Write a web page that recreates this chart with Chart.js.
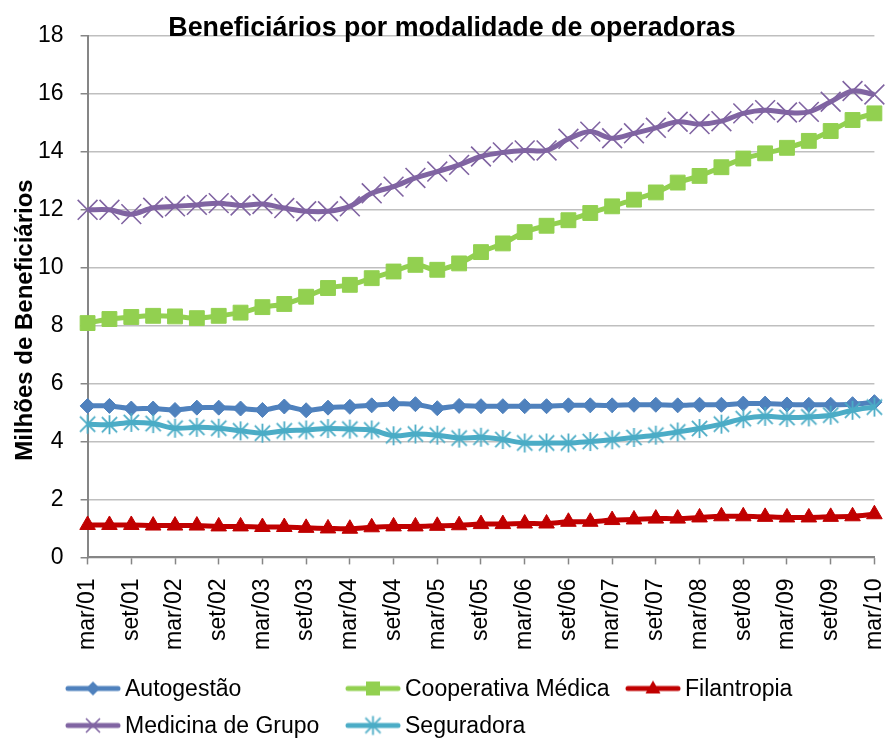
<!DOCTYPE html>
<html>
<head>
<meta charset="utf-8">
<script src="https://cdn.jsdelivr.net/npm/chart.js@4.4.1/dist/chart.umd.min.js"></script>
<style>
  body { margin: 0; background: #fff; }
  #wrap { position: relative; width: 890px; height: 738px; }
  .leg-item {
    position: absolute;
    display: flex;
    align-items: center;
    font: 23px "Liberation Sans", Arial, sans-serif;
    color: #000;
    white-space: nowrap;
    transform: translateY(-50%);
  }
  .leg-item canvas { margin-right: 4px; }
</style>
</head>
<body>
<div id="wrap">
  <canvas id="chart" width="890" height="738"></canvas>
  <div id="legend"></div>
</div>
<script>
const chartTitle = "Beneficiários por modalidade de operadoras";
const yTitle = "Milhões de Beneficiários";

// quarterly periods, mar/01 .. mar/10
const periods = [
  "mar/01", "jun/01", "set/01", "dez/01",
  "mar/02", "jun/02", "set/02", "dez/02",
  "mar/03", "jun/03", "set/03", "dez/03",
  "mar/04", "jun/04", "set/04", "dez/04",
  "mar/05", "jun/05", "set/05", "dez/05",
  "mar/06", "jun/06", "set/06", "dez/06",
  "mar/07", "jun/07", "set/07", "dez/07",
  "mar/08", "jun/08", "set/08", "dez/08",
  "mar/09", "jun/09", "set/09", "dez/09",
  "mar/10"
];

const seriesNames = ["Autogestão", "Cooperativa Médica", "Filantropia", "Medicina de Grupo", "Seguradora"];
const seriesColors = ["#4F81BD", "#92D050", "#C00000", "#8064A2", "#4BACC6"];

const autogestao = [
  5.23, 5.23, 5.14, 5.14, 5.09, 5.17, 5.17, 5.14, 5.09, 5.21, 5.08, 5.17, 5.20, 5.25, 5.30, 5.29, 5.15, 5.23,
  5.22, 5.22, 5.22, 5.22, 5.25, 5.25, 5.25, 5.27, 5.27, 5.25, 5.27, 5.27, 5.31, 5.31, 5.28, 5.27, 5.27, 5.29, 5.36
];
const cooperativa = [
  8.09, 8.23, 8.30, 8.34, 8.32, 8.26, 8.34, 8.45, 8.64, 8.75, 9.00, 9.30, 9.41, 9.64, 9.87, 10.10, 9.93, 10.15,
  10.54, 10.84, 11.23, 11.45, 11.64, 11.89, 12.12, 12.35, 12.60, 12.94, 13.17, 13.47, 13.77, 13.95, 14.14, 14.38, 14.72, 15.10, 15.33
];
const filantropia = [
  1.12, 1.12, 1.12, 1.10, 1.10, 1.10, 1.07, 1.07, 1.05, 1.05, 1.02, 1.00, 0.99, 1.04, 1.07, 1.07, 1.09, 1.11,
  1.15, 1.15, 1.17, 1.17, 1.23, 1.23, 1.29, 1.31, 1.34, 1.34, 1.38, 1.42, 1.42, 1.40, 1.38, 1.38, 1.40, 1.42, 1.49
];
const medicina = [
  12.00, 12.00, 11.85, 12.07, 12.12, 12.17, 12.23, 12.15, 12.20, 12.06, 11.95, 11.95, 12.12, 12.57, 12.80, 13.10, 13.32, 13.55,
  13.84, 13.98, 14.05, 14.05, 14.45, 14.70, 14.47, 14.64, 14.83, 15.04, 14.96, 15.06, 15.33, 15.44, 15.36, 15.38, 15.73, 16.10, 15.98
];
const seguradora = [
  4.60, 4.58, 4.66, 4.62, 4.46, 4.49, 4.46, 4.37, 4.29, 4.37, 4.40, 4.45, 4.43, 4.40, 4.20, 4.26, 4.22, 4.12,
  4.15, 4.07, 3.95, 3.95, 3.95, 4.00, 4.06, 4.14, 4.22, 4.33, 4.45, 4.60, 4.79, 4.87, 4.83, 4.85, 4.91, 5.08, 5.19
];

const yTicks = [0, 2, 4, 6, 8, 10, 12, 14, 16, 18];

const FONT = '"Liberation Sans", Arial, sans-serif';

// asterisk marker like the spreadsheet one (vertical bar + X)
function makeAsterisk(color, size) {
  const c = document.createElement("canvas");
  c.width = size; c.height = size;
  const g = c.getContext("2d");
  const m = size / 2, r = size / 2 - 1, d = r * 0.8;
  g.strokeStyle = color;
  g.lineWidth = 1.8;
  g.beginPath();
  g.moveTo(m, m - r); g.lineTo(m, m + r);
  g.moveTo(m - d, m - d); g.lineTo(m + d, m + d);
  g.moveTo(m + d, m - d); g.lineTo(m - d, m + d);
  g.stroke();
  return c;
}
const asterisk = makeAsterisk(seriesColors[4], 21);

const seriesData = [autogestao, cooperativa, filantropia, medicina, seguradora];
const pointStyles = ["rectRot", "rect", "triangle", "crossRot", asterisk];
const pointSizes = [7.5, 10.5, 9, 14, 10];
const drawOrder = [5, 4, 3, 2, 1];

const datasets = seriesNames.map((name, i) => ({
  label: name,
  data: seriesData[i],
  borderColor: seriesColors[i],
  backgroundColor: seriesColors[i],
  borderWidth: 5,
  tension: 0.35,
  pointStyle: pointStyles[i],
  pointRadius: pointSizes[i],
  pointHoverRadius: pointSizes[i],
  pointBorderWidth: i === 3 ? 1.6 : 1,
  pointBackgroundColor: seriesColors[i],
  pointBorderColor: seriesColors[i],
  order: drawOrder[i]
}));

// titles placed where the original has them (main title overlaps the top gridline)
const titlesPlugin = {
  id: "titles",
  afterDraw(chart) {
    const ctx = chart.ctx;
    ctx.save();
    ctx.fillStyle = "#000";
    ctx.textAlign = "center";
    ctx.textBaseline = "middle";
    ctx.font = "bold 26.8px " + FONT;
    ctx.fillText(chartTitle, 452, 29);
    ctx.translate(25, 320);
    ctx.rotate(-Math.PI / 2);
    ctx.font = "bold 24px " + FONT;
    ctx.fillText(yTitle, 0, 0);
    ctx.restore();
  }
};

const chart = new Chart(document.getElementById("chart"), {
  type: "line",
  data: { labels: periods, datasets },
  plugins: [titlesPlugin],
  options: {
    responsive: false,
    animation: false,
    layout: { padding: { left: 21, right: 0, top: 0, bottom: 74 } },
    plugins: {
      legend: { display: false },
      tooltip: { enabled: false },
      title: { display: false }
    },
    scales: {
      x: {
        offset: false,
        border: { color: "#868686", width: 2 },
        grid: { drawOnChartArea: false, drawTicks: true, tickLength: 7, tickColor: "#868686", tickWidth: 1.5 },
        afterFit: (s) => { s.paddingRight = 13; },
        ticks: {
          autoSkip: false,
          maxRotation: 90,
          minRotation: 90,
          padding: 14,
          color: "#000",
          font: { family: FONT, size: 23 },
          callback: (v, i) => (i % 2 === 0 ? periods[i] : null)
        }
      },
      y: {
        min: 0,
        max: 18,
        border: { color: "#868686", width: 2 },
        grid: {
          color: "#BFBFBF",
          lineWidth: 1.5,
          borderDash: [2, 3],
          tickLength: 7,
          tickColor: "#868686",
          tickWidth: 1.5,
          tickBorderDash: []
        },
        afterFit: (s) => { s.paddingTop = 36; },
        afterBuildTicks: (axis) => { axis.ticks = yTicks.map(v => ({ value: v })); },
        ticks: {
          padding: 17,
          color: "#000",
          font: { family: FONT, size: 23 }
        }
      }
    }
  }
});

// legend laid out in fixed columns like the original
function drawIcon(i) {
  const c = document.createElement("canvas");
  c.width = 56; c.height = 26;
  const g = c.getContext("2d");
  const col = seriesColors[i];
  g.strokeStyle = col;
  g.fillStyle = col;
  g.lineWidth = 5;
  g.lineCap = "round";
  g.beginPath(); g.moveTo(3, 13); g.lineTo(53, 13); g.stroke();
  const x = 28, y = 13;
  g.beginPath();
  if (i === 0) {
    g.moveTo(x, y - 7); g.lineTo(x + 7, y); g.lineTo(x, y + 7); g.lineTo(x - 7, y); g.closePath(); g.fill();
  } else if (i === 1) {
    g.fillRect(x - 7, y - 7, 14, 14);
  } else if (i === 2) {
    g.moveTo(x, y - 8); g.lineTo(x + 7.5, y + 5); g.lineTo(x - 7.5, y + 5); g.closePath(); g.fill();
  } else if (i === 3) {
    g.lineWidth = 1.6; g.lineCap = "butt";
    g.moveTo(x - 7, y - 7); g.lineTo(x + 7, y + 7);
    g.moveTo(x + 7, y - 7); g.lineTo(x - 7, y + 7);
    g.stroke();
  } else {
    g.drawImage(asterisk, x - asterisk.width / 2, y - asterisk.height / 2);
  }
  return c;
}

const legendPos = [[65, 688], [345, 688], [625, 688], [65, 725], [345, 725]];
const legend = document.getElementById("legend");
seriesNames.forEach((name, i) => {
  const item = document.createElement("div");
  item.className = "leg-item";
  item.style.left = legendPos[i][0] + "px";
  item.style.top = legendPos[i][1] + "px";
  item.appendChild(drawIcon(i));
  const span = document.createElement("span");
  span.textContent = name;
  item.appendChild(span);
  legend.appendChild(item);
});
</script>
</body>
</html>
